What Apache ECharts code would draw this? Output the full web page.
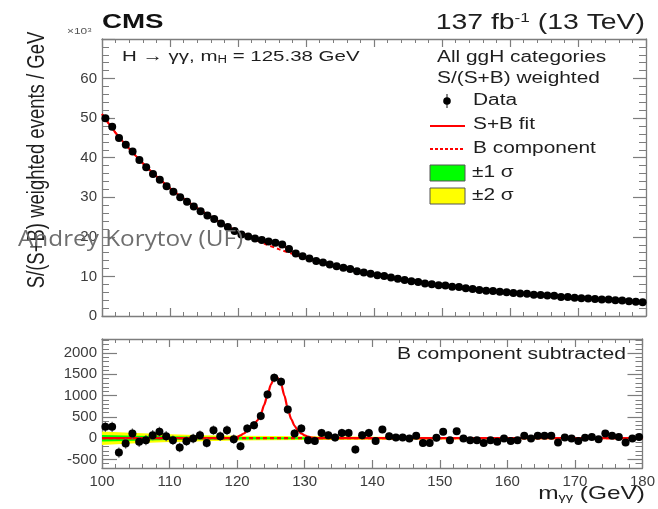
<!DOCTYPE html>
<html><head><meta charset="utf-8">
<script src="https://cdn.jsdelivr.net/npm/echarts@6/dist/echarts.min.js"></script>
<style>html,body{margin:0;padding:0;background:#fff}#main{width:658px;height:509px}</style>
</head><body><div id="main"></div>
<script>
// ---------------- data ----------------
const massCenters = [100.5,101.5,102.5,103.5,104.5,105.5,106.5,107.5,108.5,109.5,
  110.5,111.5,112.5,113.5,114.5,115.5,116.5,117.5,118.5,119.5,
  120.5,121.5,122.5,123.5,124.5,125.5,126.5,127.5,128.5,129.5,
  130.5,131.5,132.5,133.5,134.5,135.5,136.5,137.5,138.5,139.5,
  140.5,141.5,142.5,143.5,144.5,145.5,146.5,147.5,148.5,149.5,
  150.5,151.5,152.5,153.5,154.5,155.5,156.5,157.5,158.5,159.5,
  160.5,161.5,162.5,163.5,164.5,165.5,166.5,167.5,168.5,169.5,
  170.5,171.5,172.5,173.5,174.5,175.5,176.5,177.5,178.5,179.5];
// weighted events / GeV, in units of 10^3
const topEvents = [50.0,47.8,45.0,43.3,41.6,39.4,37.6,35.9,34.4,32.8,
  31.4,30.0,28.9,27.7,26.5,25.4,24.5,23.4,22.5,21.5,
  20.6,20.1,19.6,19.2,18.8,18.5,18.1,16.9,15.8,15.1,
  14.5,13.9,13.5,13.0,12.6,12.2,11.9,11.3,11.0,10.7,
  10.3,10.1,9.7,9.4,9.1,8.8,8.6,8.2,8.0,7.8,
  7.7,7.4,7.3,7.0,6.8,6.6,6.4,6.3,6.1,6.0,
  5.8,5.7,5.6,5.4,5.3,5.2,5.1,4.8,4.8,4.6,
  4.5,4.4,4.3,4.2,4.2,4.0,3.9,3.7,3.6,3.5];
// background-subtracted events
const bottomEvents = [266,266,-337,-125,110,-86,-47,70,149,47,
  -47,-219,-70,-8,70,-110,188,47,188,-23,
  -188,227,305,524,1026,1417,1323,674,110,227,
  -47,-63,125,70,16,125,125,-266,70,125,
  -63,203,47,16,16,-8,55,-110,-110,8,
  149,-47,164,-8,-47,-47,-110,-47,-86,-8,
  -63,-47,55,-8,55,55,55,-102,16,-8,
  -63,8,31,-23,110,55,31,-102,-8,31];
// statistical error per 10-GeV range (bottom panel)
const bottomErrorsByDecade = [120,110,100,95,85,75,65,60];

// B component fit (top panel, 10^3)
const bFitX = [100,102,104,106,108,110,112,114,116,118,120,122,124,126,128,130,132,134,136,138,
  140,142,144,146,148,150,152,154,156,158,160,162,164,166,168,170,172,174,176,178,180];
const bFitTop = [51.0,46.3,42.3,38.6,35.3,32.3,29.7,27.3,25.1,23.1,21.3,19.7,18.2,16.9,15.7,14.6,13.6,12.7,11.9,11.1,
  10.4,9.8,9.2,8.7,8.2,7.7,7.3,6.9,6.6,6.2,5.9,5.6,5.4,5.1,4.9,4.7,4.5,4.3,4.0,3.8,3.6];
// S+B fit (top panel, 10^3)
const sbFitX = [100,102,104,106,108,110,112,114,116,118,119,119.5,120,120.5,121,121.5,122,122.5,123,123.5,
  124,124.5,125,125.5,126,126.5,127,127.5,128,128.5,129,129.5,130,130.5,131,132,134,136,138,140,
  142,144,146,148,150,152,154,156,158,160,162,164,166,168,170,172,174,176,178,180];
const sbFitTop = [51.0,46.3,42.3,38.6,35.3,32.3,29.7,27.3,25.1,23.1,22.2,21.71,21.33,20.97,20.61,20.27,19.94,19.62,19.32,19.16,
  18.98,18.92,18.76,18.62,18.32,17.88,17.30,16.68,16.16,15.70,15.30,15.02,14.67,14.39,14.12,13.6,12.7,11.9,11.1,10.4,
  9.8,9.2,8.7,8.2,7.7,7.3,6.9,6.6,6.2,5.9,5.6,5.4,5.1,4.9,4.7,4.5,4.3,4.0,3.8,3.6];
// S+B fit minus B (bottom panel)
const sigX = [100,118,119,119.5,120,120.5,121,121.5,122,122.5,123,123.5,124,124.5,125,125.5,126,126.5,127,127.5,
  128,128.5,129,129.5,130,130.5,131,132,180];
const sigFit = [0,0,5,12,30,65,110,170,240,320,420,560,780,1020,1260,1420,1420,1280,1000,690,
  450,290,180,110,65,35,15,0,0];
// B component in the subtracted panel
const bZeroX = [100,180];
const bZero = [0,0];
// uncertainty bands on B (half widths)
const bandX = [100,105,110,115,120,125,130,140,150,160,170,180];
const band1Sigma = [75,60,45,35,28,25,22,18,15,13,11,10];
const band2Sigma = [160,120,90,70,56,50,44,36,30,26,22,20];

// tick labels
const xTickLabels = [100,110,120,130,140,150,160,170,180];
const topYTickLabels = [0,10,20,30,40,50,60];
const bottomYTickLabels = [-500,0,500,1000,1500,2000];

// ---------------- chart ----------------
const chart = echarts.init(document.getElementById('main'), null, {renderer:'canvas'});
const FONT = '"Liberation Sans", Arial, sans-serif';
const AX = '#7d7d7d';
const SX = 1.32; // horizontal stretch of the reference text
const TXT = '#1e1e1e';

const z = (a, b) => a.map((v, i) => [v, b[i]]);
const errData = massCenters.map((m, i) => [m, bottomEvents[i], bottomErrorsByDecade[Math.floor(i / 10)]]);
const plain = v => String(v);

function xAx(grid, pos, labels) {
  return {
    type:'value', gridIndex:grid, position:pos, min:100, max:180, interval:10,
    axisLine:{show:true, onZero:false, lineStyle:{color:AX, width:1.3}},
    axisTick:{show:true, inside:true, length:8, lineStyle:{color:AX, width:1.2}},
    minorTick:{show:true, splitNumber:5, length:4, lineStyle:{color:AX, width:1}},
    axisLabel:{show:labels, customValues: xTickLabels, formatter:plain, color:'#3c3c3c', fontSize:15, fontFamily:FONT, margin:6},
    splitLine:{show:false}
  };
}
function yTop(pos, labels) {
  return {
    type:'value', gridIndex:0, position:pos, min:0, max:70, interval:10,
    axisLine:{show:true, onZero:false, lineStyle:{color:AX, width:1.3}},
    axisTick:{show:true, inside:true, length:13, lineStyle:{color:AX, width:1.2}},
    minorTick:{show:true, splitNumber:5, length:7, lineStyle:{color:AX, width:1}},
    axisLabel:{show:labels, customValues: topYTickLabels, formatter:plain, color:'#3c3c3c', fontSize:15, fontFamily:FONT, margin:5},
    splitLine:{show:false}
  };
}
function yBotMinor(pos) {
  return {
    type:'value', gridIndex:1, position:pos, min:-700, max:2330, interval:100,
    axisLine:{show:true, onZero:false, lineStyle:{color:AX, width:1.3}},
    axisTick:{show:true, inside:true, length:7, lineStyle:{color:AX, width:1}},
    axisLabel:{show:false}, splitLine:{show:false}
  };
}
function yBotMajor(pos, labels) {
  return {
    type:'value', gridIndex:1, position:pos, min:-700, max:2330,
    axisLine:{show:false},
    axisTick:{show:true, inside:true, length:15, customValues: bottomYTickLabels, lineStyle:{color:AX, width:1.2}},
    axisLabel:{show:labels, customValues: bottomYTickLabels, formatter:plain, color:'#3c3c3c', fontSize:15, fontFamily:FONT, margin:5},
    splitLine:{show:false}
  };
}

function bandPolygon(half) {
  return function (params, api) {
    const pts = [];
    for (let i = 0; i < bandX.length; i++) pts.push(api.coord([bandX[i], half[i]]));
    for (let i = bandX.length - 1; i >= 0; i--) pts.push(api.coord([bandX[i], -half[i]]));
    return {type:'polygon', shape:{points:pts}, style:{fill: half === band2Sigma ? '#ffff00' : '#00ff00'}};
  };
}

const option = {
  animation:false,
  backgroundColor:'#ffffff',
  grid:[
    {left:102, top:39, width:544, height:277},
    {left:102, top:339, width:544, height:129}
  ],
  xAxis:[ xAx(0,'bottom',false), xAx(0,'top',false), xAx(1,'bottom',true), xAx(1,'top',false) ],
  yAxis:[ yTop('left',true), yTop('right',false), yBotMinor('left'), yBotMajor('left',true), yBotMinor('right'), yBotMajor('right',false) ],
  series:[
    // ---- top panel
    {type:'line', name:'B component', xAxisIndex:0, yAxisIndex:0, data:z(bFitX, bFitTop), showSymbol:false, smooth:0.3,
     lineStyle:{color:'#ff0000', width:2, type:[4,3]}, z:2},
    {type:'line', name:'S+B fit', xAxisIndex:0, yAxisIndex:0, data:z(sbFitX, sbFitTop), showSymbol:false, smooth:0.3,
     lineStyle:{color:'#ff0000', width:2}, z:3},
    {type:'scatter', name:'Data', xAxisIndex:0, yAxisIndex:0, data:z(massCenters, topEvents), symbolSize:8,
     itemStyle:{color:'#000', opacity:1}, z:5},
    // ---- bottom panel
    {type:'custom', xAxisIndex:2, yAxisIndex:3, data:[[140,0]], renderItem:bandPolygon(band2Sigma), z:1, silent:true},
    {type:'custom', xAxisIndex:2, yAxisIndex:3, data:[[140,0]], renderItem:bandPolygon(band1Sigma), z:1, silent:true},
    {type:'line', xAxisIndex:2, yAxisIndex:3, data:z(sigX, sigFit), showSymbol:false, smooth:0.25, smoothMonotone:'x',
     lineStyle:{color:'#ff0000', width:2.2}, z:3},
    {type:'line', xAxisIndex:2, yAxisIndex:3, data:z(bZeroX, bZero), showSymbol:false,
     lineStyle:{color:'#ff0000', width:2.2, type:[4,3]}, z:4},
    {type:'custom', xAxisIndex:2, yAxisIndex:3, data:errData, encode:{x:0, y:1},
     renderItem:function (params, api) {
       const x = api.value(0), y = api.value(1), e = api.value(2);
       const p1 = api.coord([x, y - e]), p2 = api.coord([x, y + e]);
       return {type:'line', shape:{x1:p1[0], y1:p1[1], x2:p2[0], y2:p2[1]}, style:{stroke:'#6a6a6a', lineWidth:1.3}};
     }, z:5},
    {type:'scatter', xAxisIndex:2, yAxisIndex:3, data:z(massCenters, bottomEvents), symbolSize:8,
     itemStyle:{color:'#000', opacity:1}, z:6}
  ],
  graphic:[
    {type:'text', x:102, y:22, scaleX:SX, style:{text:'CMS', font:'bold 21px ' + FONT, fill:'#111', verticalAlign:'middle'}},
    {type:'text', x:67, y:32, scaleX:SX, style:{text:'{a|×10}{s|3}', verticalAlign:'middle',
      rich:{a:{fontSize:9, fontFamily:FONT, fill:'#555'}, s:{fontSize:6, fontFamily:FONT, fill:'#555', verticalAlign:'top'}}}},
    {type:'text', x:645, y:23, scaleX:SX, style:{text:'{a|137 fb}{s|-1}{a| (13 TeV)}', align:'right', verticalAlign:'middle',
      rich:{a:{fontSize:21.5, fontFamily:FONT, fill:TXT}, s:{fontSize:13, fontFamily:FONT, fill:TXT, verticalAlign:'top'}}}},
    {type:'text', x:122, y:57, scaleX:SX, style:{text:'{a|H → γγ, m}{b|H}{a| = 125.38 GeV}', verticalAlign:'middle',
      rich:{a:{fontSize:15.5, fontFamily:FONT, fill:TXT}, b:{fontSize:10, fontFamily:FONT, fill:TXT, verticalAlign:'bottom', padding:[6,0,0,0]}}}},
    {type:'text', x:437, y:58, scaleX:SX, style:{text:'All ggH categories', font:'15.8px ' + FONT, fill:TXT, verticalAlign:'middle'}},
    {type:'text', x:437, y:79, scaleX:SX, style:{text:'S/(S+B) weighted', font:'15.8px ' + FONT, fill:TXT, verticalAlign:'middle'}},
    // legend
    {type:'line', shape:{x1:447, y1:94, x2:447, y2:108}, style:{stroke:'#444', lineWidth:1.3}},
    {type:'circle', shape:{cx:447, cy:101, r:3.8}, style:{fill:'#000'}},
    {type:'text', x:473, y:101, scaleX:SX, style:{text:'Data', font:'15.8px ' + FONT, fill:TXT, verticalAlign:'middle'}},
    {type:'line', shape:{x1:430, y1:126, x2:465, y2:126}, style:{stroke:'#ff0000', lineWidth:2}},
    {type:'text', x:473, y:125, scaleX:SX, style:{text:'S+B fit', font:'15.8px ' + FONT, fill:TXT, verticalAlign:'middle'}},
    {type:'line', shape:{x1:430, y1:149, x2:465, y2:149}, style:{stroke:'#ff0000', lineWidth:2, lineDash:[3,2]}},
    {type:'text', x:473, y:149, scaleX:SX, style:{text:'B component', font:'15.8px ' + FONT, fill:TXT, verticalAlign:'middle'}},
    {type:'rect', shape:{x:430, y:165, width:35, height:16}, style:{fill:'#00ff00', stroke:'#555', lineWidth:1}},
    {type:'text', x:472, y:173, scaleX:SX, style:{text:'±1 σ', font:'15.8px ' + FONT, fill:TXT, verticalAlign:'middle'}},
    {type:'rect', shape:{x:430, y:188, width:35, height:16}, style:{fill:'#ffff00', stroke:'#555', lineWidth:1}},
    {type:'text', x:472, y:196, scaleX:SX, style:{text:'±2 σ', font:'15.8px ' + FONT, fill:TXT, verticalAlign:'middle'}},
    // bottom panel label
    {type:'text', x:626, y:355, scaleX:SX, style:{text:'B component subtracted', font:'16px ' + FONT, fill:TXT, align:'right', verticalAlign:'middle'}},
    // axis titles
    {type:'text', x:645, y:494, scaleX:SX, style:{text:'{a|m}{b|γγ}{a| (GeV)}', align:'right', verticalAlign:'middle',
      rich:{a:{fontSize:18.5, fontFamily:FONT, fill:TXT}, b:{fontSize:11, fontFamily:FONT, fill:TXT, verticalAlign:'bottom', padding:[6,0,0,0]}}}},
    {type:'text', x:37, y:160, rotation:Math.PI/2, scaleY:SX, style:{text:'S/(S+B) weighted events / GeV', font:'18.5px ' + FONT, fill:TXT, align:'center', verticalAlign:'middle'}},
    // watermark
    {type:'text', x:18, y:240, z:100, scaleX:1.08, style:{text:'Andrey Korytov (UF)', font:'22.5px "Open Sans", sans-serif', fill:'#6e6e6e', verticalAlign:'middle'}}
  ]
};
chart.setOption(option);
</script></body></html>
